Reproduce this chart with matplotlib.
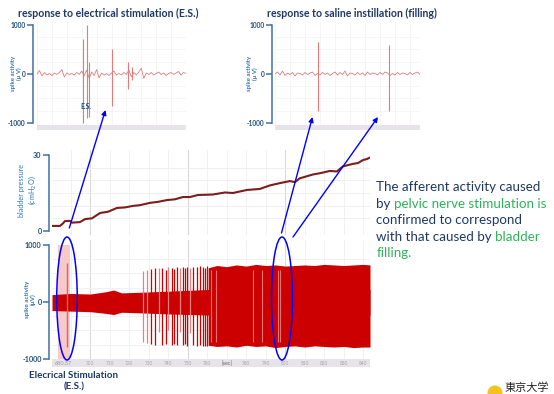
import numpy as np
import matplotlib
matplotlib.use('Agg')
import matplotlib.pyplot as plt
from matplotlib.patches import Ellipse, FancyArrowPatch, Rectangle, Circle
from matplotlib.transforms import blended_transform_factory

plt.rcParams['font.family'] = ['Lato', 'Noto Sans CJK JP', 'DejaVu Sans']

# ---------------- data ----------------
# Inset 1: response to electrical stimulation (time in ms)
es_trace_t = np.arange(0, 150.1, 2.5)
es_trace_v = [0, 70, -40, 30, -20, 10, -30, 20, -10, 30, 90, -60, 20, -10, 10, -20,
              30, -10, 60, -40, 80, -90, 40, -30, 90, -80, 20, -20, 10, -30, 20, 60,
              -20, 10, -20, 30, -10, 80, -60, 30, -20, 40, 120, -90, 20, -10, 30, -20,
              10, 40, -10, 20, -30, 10, 30, -10, 20, 50, -20, 30, 10]
es_spike_t = [46, 50, 52, 76, 92, 96]
es_spike_hi = [720, 1000, 250, 510, 250, 150]
es_spike_lo = [-1000, -900, -870, -650, -310, -120]

# Inset 2: response to saline instillation (time in ms)
sal_trace_t = np.arange(0, 145.1, 2.5)
sal_trace_v = [0, 40, -20, 60, -30, 20, -10, 30, -40, 20, 10, -20, 30, -10, 20, 40,
               -30, 10, -20, 30, -10, 20, -30, 10, 40, -20, 30, -10, 60, -40, 20, 10,
               -20, 30, -10, 20, -30, 40, -10, 20, 10, -20, 30, -10, 40, 20, -30, 10,
               -20, 30, -10, 20, 10, -20, 30, -10, 20, 40, -10]
sal_spike_t = [43, 114]
sal_spike_hi = [650, 590]
sal_spike_lo = [-750, -760]

# Bladder pressure (cmH2O) vs time (s)
press_t = [680.9, 684.5, 686.0, 687.0, 689.6, 690.6, 694.7, 697.3, 700.9, 705.0,
           709.1, 713.7, 717.8, 721.9, 725.5, 730.6, 734.7, 739.3, 743.4, 747.5,
           751.1, 755.2, 762.9, 769.1, 773.2, 780.4, 787.0, 792.2, 797.3, 802.4,
           805.0, 807.5, 814.2, 817.8, 822.9, 826.5, 829.6, 834.7, 837.3, 839.9,
           841.9, 843.5]
press_v = [2.0, 2.0, 3.0, 3.9, 4.0, 3.3, 3.5, 4.7, 5.0, 7.1,
           7.6, 9.1, 9.3, 9.9, 10.2, 11.1, 11.5, 12.2, 12.5, 13.4,
           13.4, 14.2, 14.4, 15.2, 15.0, 16.2, 16.6, 18.0, 18.9, 19.7,
           19.3, 20.8, 22.3, 22.8, 23.7, 23.5, 25.5, 26.5, 26.8, 28.0,
           28.4, 29.0]

# Spike activity (uV) vs time (s)
noise_t = [680.37, 690, 700, 708, 712, 716, 725, 740, 761, 843.5]
noise_hi = [130, 150, 140, 180, 210, 160, 170, 190, 220, 220]
noise_lo = [-150, -160, -170, -200, -220, -180, -190, -210, -230, -230]

es_band = (683.5, 689.5)
es_red_t, es_red_hi, es_red_lo = 687.9, 680, -790

spike_t = [726.9, 728.9, 731.1, 733.2, 735.4, 736.9, 738.7, 740.0, 741.8, 742.9,
           744.3, 746.0, 747.4, 748.6, 749.8, 751.1, 752.8, 754.6, 756.3, 757.8,
           758.8, 759.9]
spike_hi = [550, 560, 580, 600, 590, 600, 560, 610, 600, 580,
            620, 590, 610, 600, 620, 600, 620, 610, 630, 620, 600, 630]
spike_lo = [-700, -720, -740, -750, -520, -760, -740, -500, -760, -740,
            -760, -520, -760, -740, -770, -540, -760, -770, -760, -780, -770, -780]
spike_dark = [0, 0, 1, 1, 0, 1, 1, 0, 1, 1, 1, 0, 1, 1, 1, 0, 1, 1, 1, 1, 1, 1]

block_t = [760.5, 765, 770, 775, 780, 785, 790, 795, 800, 805, 810, 815, 820, 825,
           830, 835, 840, 843.5]
block_hi = [600, 640, 620, 650, 630, 660, 640, 650, 630, 640, 650, 640, 660, 650,
            640, 650, 660, 650]
block_lo = [-760, -780, -770, -790, -760, -780, -770, -800, -780, -770, -790, -770,
            -780, -790, -780, -800, -790, -790]
pale_t = [762.0, 764.5, 783.4, 788.1, 796.3, 797.3]

x_ticks = [700, 710, 720, 730, 740, 750, 760, 770, 780, 790, 800, 810, 820, 830, 840]
x_ticklabels = ['700', '710', '720', '730', '740', '750', '760', '[sec]', '780',
                '790', '800', '810', '820', '830', '840']
t_start, t_end = 680.37, 843.5

# ---------------- style ----------------
W, H = 554, 394
fig = plt.figure(figsize=(W / 100, H / 100), dpi=100)

SPINE = '#41719C'
TICKC = '#1F4E79'
LABC = '#2E75B6'
NAVY = '#1F3864'
GREEN = '#2DB35A'
RED = '#CC0000'
PINK = '#F7C9C9'
INSET = '#E57A7A'
STRIP = '#E6E3EA'


def px_axes(x0, y0, x1, y1, z=1):
    ax = fig.add_axes([x0 / W, 1 - y1 / H, (x1 - x0) / W, (y1 - y0) / H], zorder=z)
    ax.patch.set_alpha(0)
    return ax


def style_y(ax, ticks, labels, lo, hi, fs, outward):
    for s in ['top', 'right', 'bottom']:
        ax.spines[s].set_visible(False)
    ax.spines['left'].set_position(('outward', outward))
    ax.spines['left'].set_bounds(lo, hi)
    ax.spines['left'].set_color(SPINE)
    ax.spines['left'].set_linewidth(1.1)
    ax.set_yticks(ticks)
    ax.set_yticklabels(labels, fontsize=fs, fontweight='bold', color=TICKC)
    ax.tick_params(axis='y', length=4, width=1.1, color=SPINE, pad=1.5)
    ax.set_xticks([])


def strip(ax, h):
    ax.add_patch(Rectangle((0, -h), 1, h, transform=ax.transAxes, clip_on=False,
                           color=STRIP, lw=0, zorder=0))


# ---------- inset 1 ----------
a1 = px_axes(37, 22, 186, 125)
a1.set_xlim(0, 150)
a1.set_ylim(-1041, 1061)
for g in np.arange(0, 151, 15):
    a1.axvline(g, color='#F1F1F1', lw=0.5, zorder=0)
for g in [-750, -500, -250, 250, 500, 750]:
    a1.axhline(g, color='#F3F3F3', lw=0.5, zorder=0)
a1.plot(es_trace_t, es_trace_v, color=INSET, lw=0.6)
a1.vlines(es_spike_t, es_spike_lo, es_spike_hi, color=INSET, lw=0.8)
style_y(a1, [-1000, 0, 1000], ['-1000', '0', '1000'], -1000, 1000, 4.8, 3)
a1.set_ylabel('spike activity\n(μ V)', fontsize=4.3, fontweight='bold', color=LABC,
              linespacing=1.1)
a1.yaxis.set_label_coords(-0.10, 0.5)
strip(a1, 5 / 103)
a1.text(49, -660, 'E.S.', fontsize=5, fontweight='bold', color=TICKC, ha='center',
        va='center')

# ---------- inset 2 ----------
a2 = px_axes(275, 22, 420, 125)
a2.set_xlim(0, 145)
a2.set_ylim(-1041, 1061)
for g in np.arange(0, 146, 15):
    a2.axvline(g, color='#F1F1F1', lw=0.5, zorder=0)
for g in [-750, -500, -250, 250, 500, 750]:
    a2.axhline(g, color='#F3F3F3', lw=0.5, zorder=0)
a2.plot(sal_trace_t, sal_trace_v, color=INSET, lw=0.6)
a2.vlines(sal_spike_t, sal_spike_lo, sal_spike_hi, color=INSET, lw=0.8)
style_y(a2, [-1000, 0, 1000], ['-1000', '0', '1000'], -1000, 1000, 4.8, 2)
a2.set_ylabel('spike activity\n(μ V)', fontsize=4.3, fontweight='bold', color=LABC,
              linespacing=1.1)
a2.yaxis.set_label_coords(-0.12, 0.5)
strip(a2, 5 / 103)

# ---------- pressure panel ----------
a3 = px_axes(52, 150, 370, 235)
a3.set_xlim(t_start, t_end)
a3.set_ylim(-1.58, 31.97)
for g in np.arange(690, 841, 10):
    a3.axvline(g, color='#EFEFEF', lw=0.6, zorder=0)
for g in [700, 750, 800]:
    a3.axvline(g, color='#D9D9D9', lw=0.8, zorder=0)
for g in [5, 10, 15, 20, 25]:
    a3.axhline(g, color='#EDEDED', lw=0.6, zorder=0)
a3.plot(press_t, press_v, color='#7A1E1E', lw=1.5)
style_y(a3, [0, 30], ['0', '30'], 0, 30, 5.2, 2)
a3.set_ylabel('bladder pressure\n(cmH$_2$O)', fontsize=5.2, color=LABC, linespacing=1.2)
a3.yaxis.set_label_coords(-0.044, 0.53)

# ---------- spike panel ----------
a4 = px_axes(52, 240, 370, 359)
a4.set_xlim(t_start, t_end)
a4.set_ylim(-1000, 1087.7)
for g in np.arange(690, 841, 10):
    a4.axvline(g, color='#EFEFEF', lw=0.6, zorder=0)
for g in [700, 750, 800]:
    a4.axvline(g, color='#D9D9D9', lw=0.8, zorder=0)
for g in [-750, -500, -250, 250, 500, 750]:
    a4.axhline(g, color='#EFEFEF', lw=0.6, zorder=0)
a4.axvspan(es_band[0], es_band[1], ymin=0, ymax=2000 / 2087.7, color=PINK, lw=0, zorder=1)
a4.fill_between(noise_t, noise_lo, noise_hi, color=RED, lw=0, zorder=2)
a4.vlines([es_red_t], [es_red_lo], [es_red_hi], color='#E06060', lw=1.0, zorder=3)
dark = [i for i, d in enumerate(spike_dark) if d]
light = [i for i, d in enumerate(spike_dark) if not d]
a4.vlines([spike_t[i] for i in light], [spike_lo[i] for i in light],
          [spike_hi[i] for i in light], color='#E88080', lw=0.9, zorder=2)
a4.vlines([spike_t[i] for i in dark], [spike_lo[i] for i in dark],
          [spike_hi[i] for i in dark], color=RED, lw=0.9, zorder=2)
a4.fill_between(block_t, block_lo, block_hi, color=RED, lw=0, zorder=2)
a4.vlines(pale_t, -700, 560, color='#E57373', lw=0.8, zorder=3)
style_y(a4, [-1000, 0, 1000], ['-1000', '0', '1000'], -1000, 1000, 5.2, 2)
a4.set_ylabel('spike activity\n(μV)', fontsize=4.6, fontweight='bold', color=LABC,
              linespacing=1.1)
a4.yaxis.set_label_coords(-0.05, 0.5)
strip(a4, 8 / 119)
tr = blended_transform_factory(a4.transData, a4.transAxes)
a4.text(t_start + 1.2, -0.035, '680.37', transform=tr, fontsize=4, color='#9A9A9A',
        ha='left', va='center')
for xv, lab in zip(x_ticks, x_ticklabels):
    a4.text(xv, -0.035, lab, transform=tr, fontsize=3.4 if lab != '[sec]' else 4,
            color='#A5A5A5' if lab != '[sec]' else '#666666', ha='center', va='center')

# ---------- overlay: titles, ellipses, arrows, notes ----------
ov = fig.add_axes([0, 0, 1, 1], zorder=10)
ov.set_xlim(0, W)
ov.set_ylim(H, 0)
ov.axis('off')
ov.patch.set_alpha(0)

ov.text(18, 13, 'response to electrical stimulation (E.S.)', fontsize=7.6,
        fontweight='bold', color=NAVY, va='center', ha='left')
ov.text(267, 13, 'response to saline instillation (filling)', fontsize=7.6,
        fontweight='bold', color=NAVY, va='center', ha='left')
ov.text(73.5, 375.5, 'Elecrical Stimulation', fontsize=7, fontweight='bold',
        color=NAVY, va='center', ha='center')
ov.text(74, 387, '(E.S.)', fontsize=7, fontweight='bold', color=NAVY, va='center',
        ha='center')

BLUE = '#0000FF'
ov.add_patch(Ellipse((67, 298.5), 20.5, 123, fill=False, ec=BLUE, lw=1.1))
ov.add_patch(Ellipse((282, 298.5), 21, 123, fill=False, ec=BLUE, lw=1.1))
for (x0, y0, x1, y1) in [(69.3, 228, 105.5, 110), (281.5, 233, 312.5, 117),
                         (293, 237, 378, 117)]:
    ov.add_patch(FancyArrowPatch((x0, y0), (x1, y1), arrowstyle='-|>',
                                 mutation_scale=7, color=BLUE, lw=1.0,
                                 shrinkA=0, shrinkB=0))

lines = [
    (191, [('The afferent activity caused', NAVY)]),
    (207.5, [('by ', NAVY), ('pelvic nerve stimulation is', GREEN)]),
    (224, [('confirmed to correspond', NAVY)]),
    (240.5, [('with that caused by ', NAVY), ('bladder', GREEN)]),
    (257, [('filling.', GREEN)]),
]
renderer = fig.canvas.get_renderer()
for y, parts in lines:
    x = 376.5
    for s, c in parts:
        t = ov.text(x, y, s, color=c, fontsize=9.6, va='baseline', ha='left')
        bb = t.get_window_extent(renderer=renderer)
        x += bb.width

ov.add_patch(Circle((495, 393), 7.5, color='#F2C31B', lw=0))
ov.text(505, 393, '東京大学', fontsize=8, color='#222222', va='bottom', ha='left',
        family=['Noto Sans CJK JP', 'DejaVu Sans'])

fig.savefig('out.png', dpi=100)
